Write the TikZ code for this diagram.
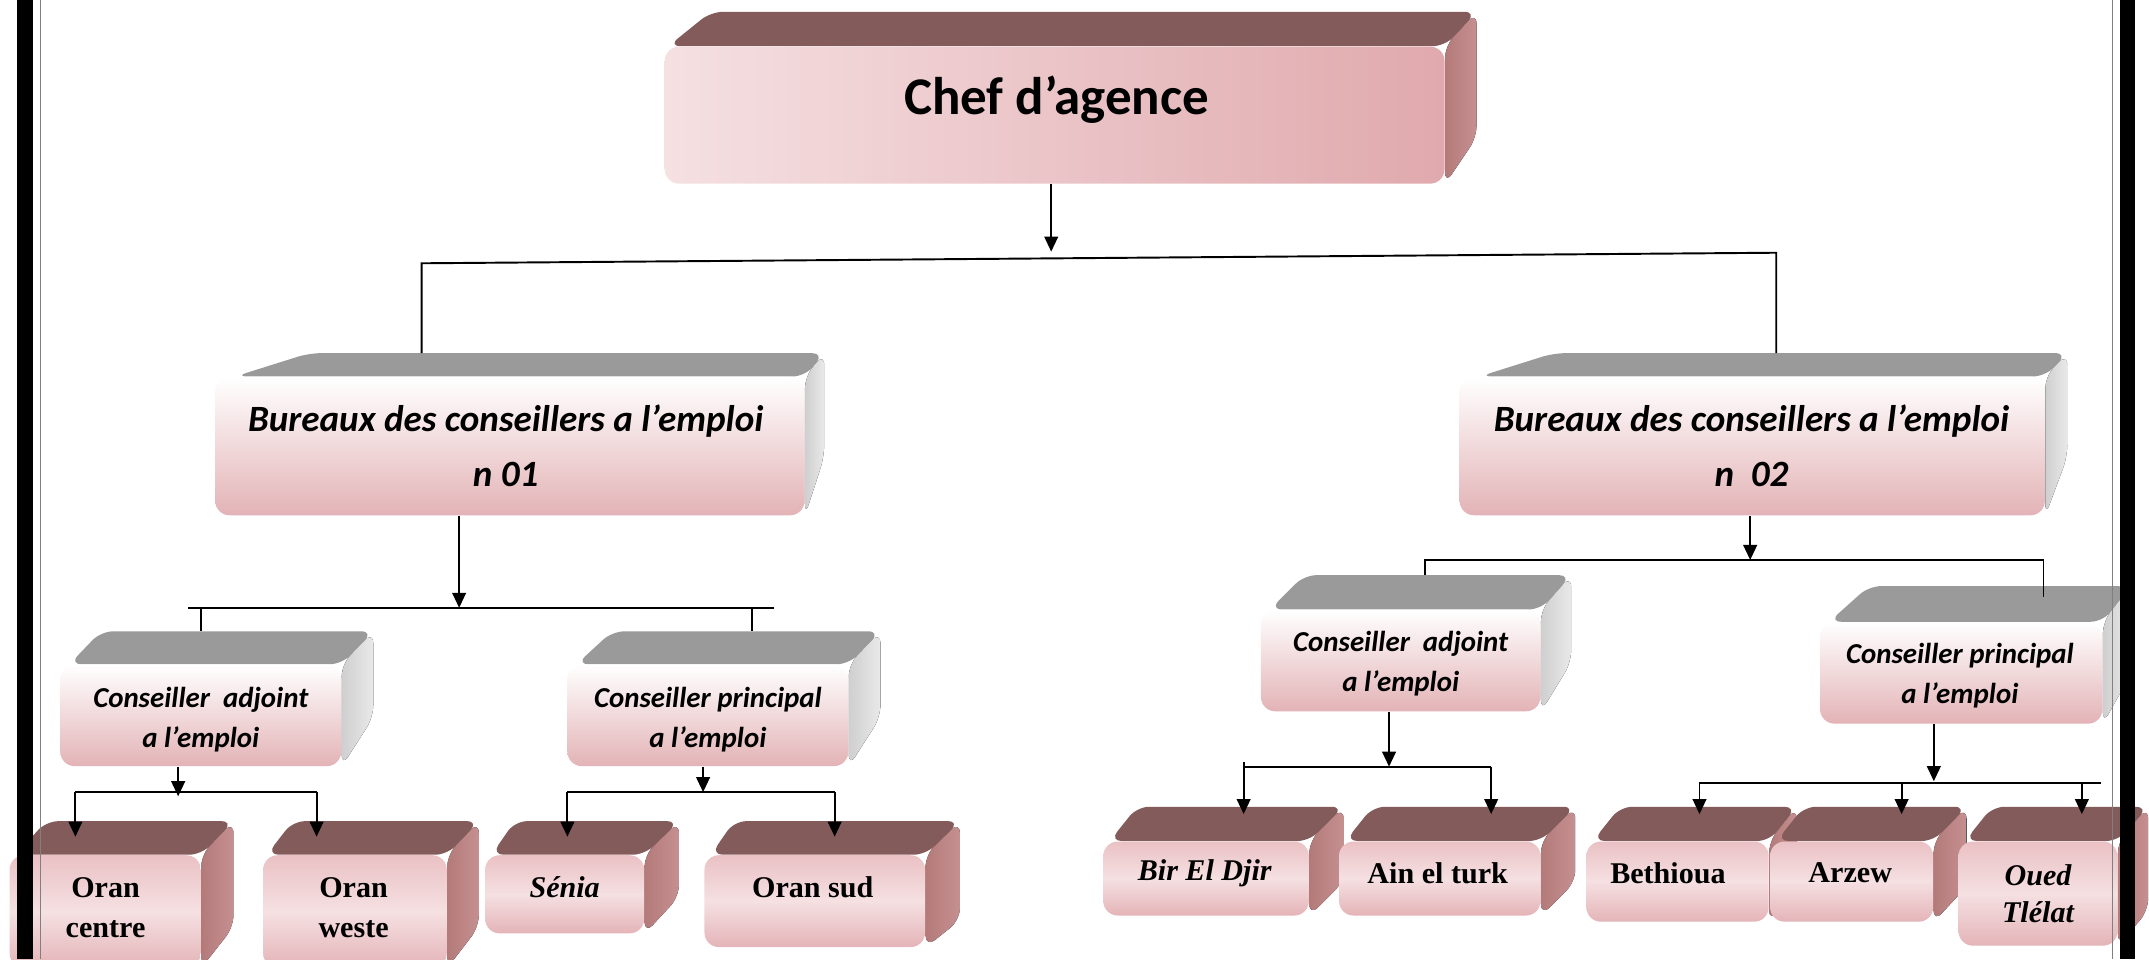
\documentclass[tikz,border=0pt]{standalone}
\usepackage{fontspec}
\setmainfont{Liberation Serif}
\newfontfamily\calibri{Carlito}
\usetikzlibrary{arrows.meta}

\definecolor{browntop}{HTML}{835B5B}
\definecolor{brownside}{HTML}{B47A7A}
\definecolor{brownsidelight}{HTML}{C69090}
\definecolor{greytop}{HTML}{9A9A9A}
\definecolor{greyside}{HTML}{CFCFCF}
\definecolor{greysidelight}{HTML}{E9E9E9}
\definecolor{rosedeep}{HTML}{E0A9AD}
\definecolor{rosemid}{HTML}{EAC1C4}
\definecolor{roselight}{HTML}{F5E0E2}
\definecolor{rosefoot}{HTML}{E3B3B6}

\pgfdeclarelayer{back}
\pgfsetlayers{back,main}

% #1 box, #2 look, #3 depth, #4 side, #5 back left, #6 side rise, #7 front left
\newcommand{\bevel}[7]{%
  \begin{pgfonlayer}{back}
    \fill[#2 side] (#1.north east) -- ([shift={(#4,-#3)}]#1.north east)
      -- ([shift={(#4,-#6)}]#1.south east) -- (#1.south east) -- cycle;
    \fill[#2 top] ([shift={(#7,0)}]#1.north west) -- ([shift={(#5,-#3)}]#1.north west)
      -- ([shift={(#4,-#3)}]#1.north east) -- (#1.north east) -- cycle;
  \end{pgfonlayer}
  \coordinate (#1-back) at ([shift={(0,-#3)}]#1.north);
}

\begin{document}
\begin{tikzpicture}[x=0.02cm, y=-0.02cm,
  grey top/.style={fill=greytop, rounded corners=5},
  grey side/.style={left color=greyside, right color=greysidelight, rounded corners=5},
  brown top/.style={fill=browntop, rounded corners=5},
  brown side/.style={left color=brownside, right color=brownsidelight, rounded corners=5},
  dims/.style 2 args={minimum width=#1*0.02cm, minimum height=#2*0.02cm},
  grey face/.style={rectangle, rounded corners=6, inner sep=0pt, top color=white, bottom color=rosefoot},
  brown face/.style={rectangle, rounded corners=6, inner sep=0pt, top color=rosemid, bottom color=rosedeep!80!roselight, middle color=roselight},
  title/.style={font=\calibri\bfseries\fontsize{22}{26}\selectfont},
  office/.style={align=center, font=\calibri\bfseries\itshape\fontsize{15.4}{22.8}\selectfont},
  adviser/.style={align=center, font=\calibri\bfseries\itshape\fontsize{12}{16.5}\selectfont},
  place/.style={align=center, font=\bfseries\fontsize{12.5}{16.5}\selectfont},
  place it/.style={align=center, font=\bfseries\itshape\fontsize{12.5}{15.5}\selectfont},
  link/.style={line width=0.8pt},
  arrow/.style={link, -{Triangle[length=0.22cm, width=0.2cm]}}]
\useasboundingbox (0,0) rectangle (1568,700);

% boxes
\node[brown face, dims={569}{100}, left color=roselight, right color=rosedeep] (chef) at (769.5,84) {};
\bevel{chef}{brown}{25}{23}{34}{34}{3}

\node[grey face, dims={430}{101}] (bur1) at (372,325.5) {};
\bevel{bur1}{grey}{17}{14}{69}{43}{15}
\node[grey face, dims={427}{101}] (bur2) at (1278.5,325.5) {};
\bevel{bur2}{grey}{17}{16}{69}{43}{15}

\node[grey face, dims={205}{74}] (adj1) at (146.5,522) {};
\bevel{adj1}{grey}{24}{23}{30}{36}{7}
\node[grey face, dims={205}{74}] (pri1) at (516.5,522) {};
\bevel{pri1}{grey}{24}{23}{33}{36}{7}
\node[grey face, dims={204}{74}] (adj2) at (1022,482) {};
\bevel{adj2}{grey}{25}{22}{32}{36}{7}
\node[grey face, dims={206}{74}] (pri2) at (1431,491) {};
\bevel{pri2}{grey}{26}{20}{36}{36}{7}

\node[brown face, dims={139.5}{82}] (oranc) at (76.75,665) {};
\bevel{oranc}{brown}{24.5}{23.5}{27}{30}{5}
\node[brown face, dims={134}{82}] (oranw) at (259,665) {};
\bevel{oranw}{brown}{24.5}{23}{22}{30}{3}
\node[brown face, dims={116}{57}] (senia) at (412,652.5) {};
\bevel{senia}{brown}{24.5}{25}{22}{27}{5}
\node[brown face, dims={161}{67}] (oransud) at (594.5,657.5) {};
\bevel{oransud}{brown}{24.5}{25}{22}{20}{5}
\node[brown face, dims={150}{54}] (birdjir) at (880,641) {};
\bevel{birdjir}{brown}{25}{25}{25}{25}{5}
\node[brown face, dims={147}{54}] (ainturk) at (1050.5,641) {};
\bevel{ainturk}{brown}{25}{25}{25}{25}{5}
\node[brown face, dims={133}{58.5}] (bethioua) at (1224,643.25) {};
\bevel{bethioua}{brown}{25}{20}{25}{26}{5}
\node[brown face, dims={119}{58.5}] (arzew) at (1351,643.25) {};
\bevel{arzew}{brown}{25}{24}{25}{26}{5}
\node[brown face, dims={116}{76}] (oued) at (1487,652) {};
\bevel{oued}{brown}{25}{22}{25}{26}{5}

% texts
\node[title]   (chef-txt)     at (771,73)      {Chef d’agence};
\node[office]  (bur1-txt)     at (369,325)     {Bureaux des conseillers a l’emploi\\n 01};
\node[office]  (bur2-txt)     at (1278,325)    {Bureaux des conseillers a l’emploi\\n\ \ 02};
\node[adviser] (adj1-txt)     at (146.5,525)   {Conseiller\ \ adjoint\\a l’emploi};
\node[adviser] (pri1-txt)     at (516.5,525)   {Conseiller principal\\a l’emploi};
\node[adviser] (adj2-txt)     at (1022,484)    {Conseiller\ \ adjoint\\a l’emploi};
\node[adviser] (pri2-txt)     at (1430,493)    {Conseiller principal\\a l’emploi};
\node[place]   (oranc-txt)    at (77,662.5)    {Oran\\centre};
\node[place]   (oranw-txt)    at (258,662.5)   {Oran\\weste};
\node[place it](senia-txt)    at (412,647)     {Sénia};
\node[place]   (oransud-txt)  at (593,647)     {Oran sud};
\node[place it](birdjir-txt)  at (879,637)     {Bir El Djir};
\node[place]   (ainturk-txt)  at (1049,637)    {Ain el turk};
\node[place]   (bethioua-txt) at (1217,637)    {Bethioua};
\node[place]   (arzew-txt)    at (1350,637)    {Arzew};
\node[place it](oued-txt)     at (1487,652)    {Oued\\Tlélat};

% connectors
\coordinate (rowA) at (0,610.5);
\coordinate (rowB) at (0,594);

\coordinate (c0)  at (767,183.6);
\coordinate (c0l) at (307.6,192.1);
\coordinate (c0r) at (1296,184.4);
\draw[arrow] (c0 |- chef.south) -- (c0);
\draw[link] (bur1-back -| c0l) -- (c0l) -- (c0r) -- (bur2-back -| c0r);

\coordinate (c1)  at (335,443.5);
\coordinate (c1l) at (137,443.5);
\coordinate (c1r) at (565,443.5);
\coordinate (c1p) at (549,443.5);
\draw[arrow] (c1 |- bur1.south) -- (c1);
\draw[link] (c1l) -- (c1r);
\draw[link] (adj1-back |- c1l) -- (adj1-back);
\draw[link] (c1p) -- (c1p |- pri1-back);

\coordinate (c2)  at (1277,408.6);
\coordinate (c2l) at (1040,408.6);
\coordinate (c2r) at (1491,408.6);
\coordinate (c2e) at (1491,435.8);
\draw[arrow] (c2 |- bur2.south) -- (c2);
\draw[link] (adj2-back -| c2l) -- (c2l) -- (c2r) -- (c2e);

\coordinate (c3)  at (130,581);
\coordinate (c3l) at (55,578);
\coordinate (c3r) at (231,578);
\draw[arrow] (c3 |- adj1.south) -- (c3);
\draw[link] (c3l) -- (c3r);
\draw[arrow] (c3l) -- (c3l |- rowA);
\draw[arrow] (c3r) -- (c3r |- rowA);

\coordinate (c4)  at (513,578);
\coordinate (c4l) at (414,578);
\coordinate (c4r) at (609,578);
\draw[arrow] (c4 |- pri1.south) -- (c4);
\draw[link] (c4l) -- (c4r);
\draw[arrow] (c4l) -- (c4l |- rowA);
\draw[arrow] (c4r) -- (c4r |- rowA);

\coordinate (c5)  at (1013.5,559.4);
\coordinate (c5t) at (907.4,555.8);
\coordinate (c5l) at (907.4,559.4);
\coordinate (c5r) at (1088,559.4);
\draw[arrow] (c5 |- adj2.south) -- (c5);
\draw[link] (c5l) -- (c5r);
\draw[arrow] (c5t) -- (c5t |- rowB);
\draw[arrow] (c5r) -- (c5r |- rowB);

\coordinate (c6)  at (1411,570);
\coordinate (c6l) at (1240,571.5);
\coordinate (c6m) at (1387.5,571.5);
\coordinate (c6o) at (1519,571.5);
\coordinate (c6r) at (1532.7,571.5);
\draw[arrow] (c6 |- pri2.south) -- (c6);
\draw[link] (c6l) -- (c6r);
\draw[arrow] (c6l) -- (c6l |- rowB);
\draw[arrow] (c6m) -- (c6m |- rowB);
\draw[arrow] (c6o) -- (c6o |- rowB);

% page border
\fill[black] (12.4,0) rectangle (24,700);
\fill[black] (1547,0) rectangle (1558,700);
\draw[gray, line width=0.4pt] (29.2,0) -- (29.2,700);
\draw[gray, line width=0.4pt] (1541,0) -- (1541,700);
\end{tikzpicture}
\end{document}
